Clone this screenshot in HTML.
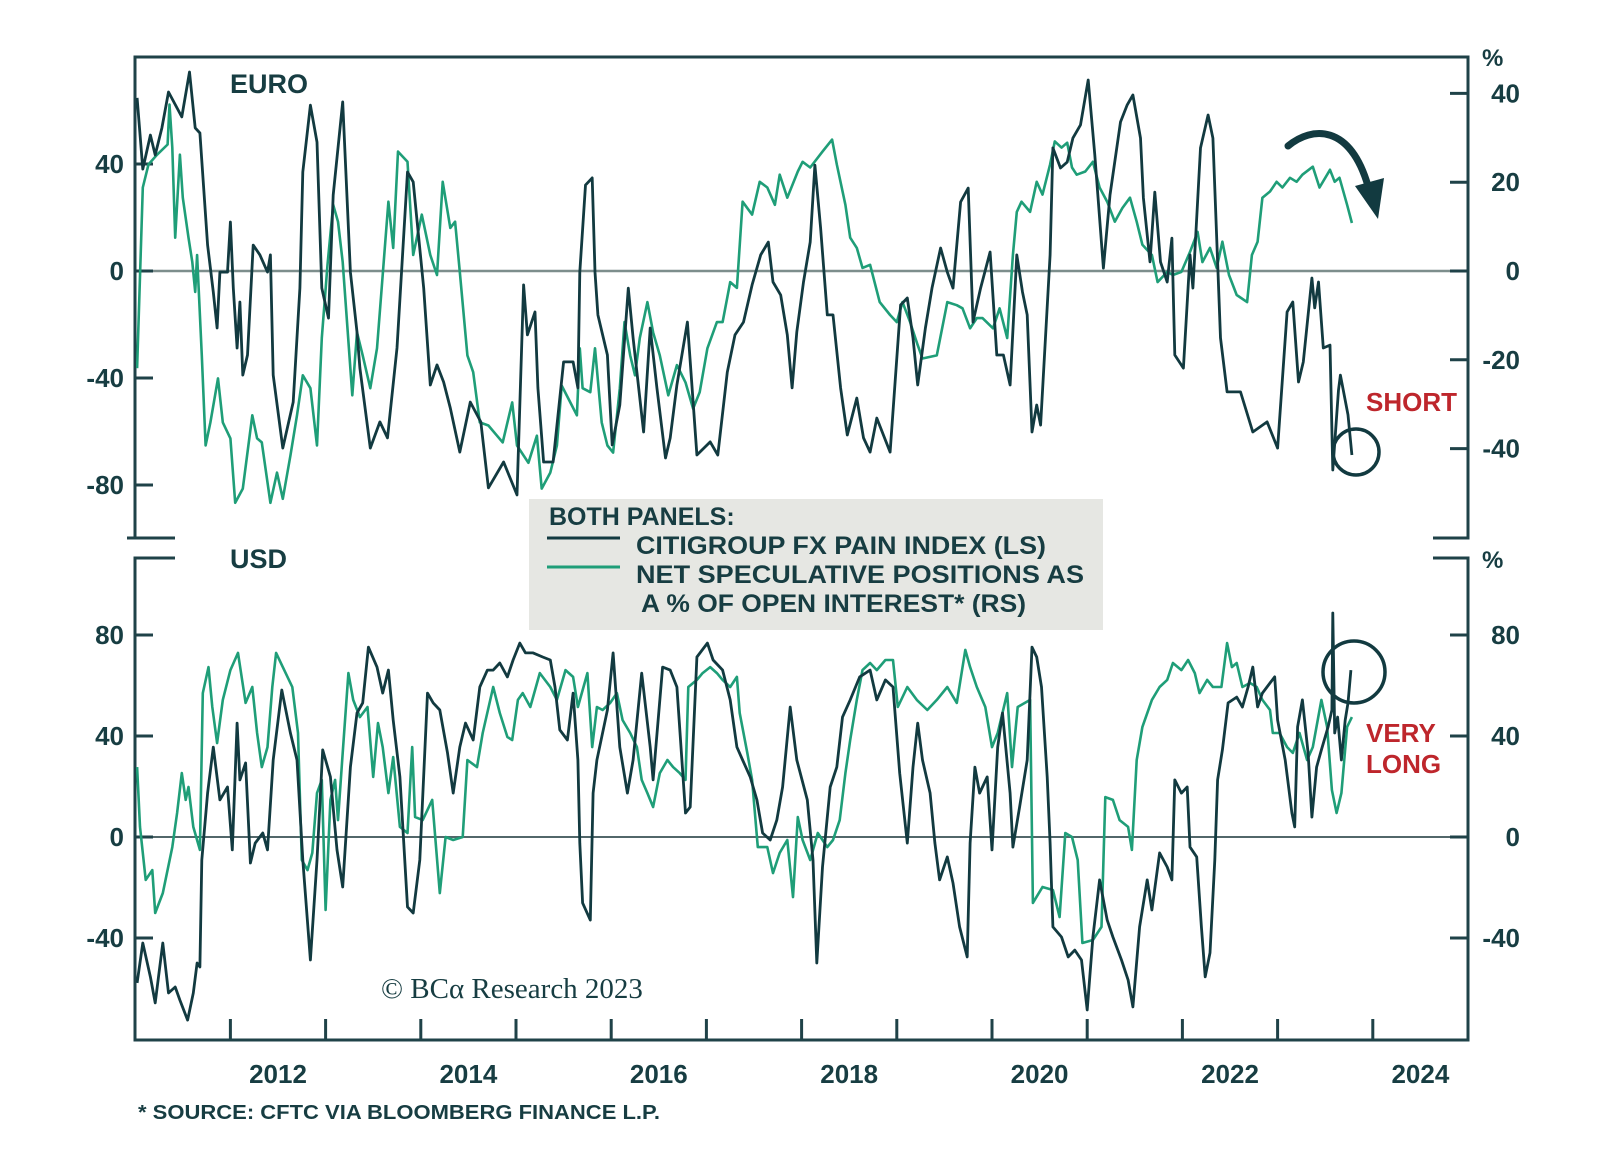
<!DOCTYPE html>
<html><head><meta charset="utf-8"><style>
html,body{margin:0;padding:0;background:#fff}
svg{display:block;font-family:"Liberation Sans",Arial,sans-serif}
</style></head><body>
<svg id="chart" width="1600" height="1160" viewBox="0 0 1600 1160" xmlns="http://www.w3.org/2000/svg">
<defs>
<clipPath id="clipTop"><rect x="136" y="58" width="1331" height="479"/></clipPath>
<clipPath id="clipBot"><rect x="136" y="559" width="1331" height="480"/></clipPath>
</defs>
<g id="axes"></g>
<rect x="529" y="499" width="574" height="131" fill="#e6e7e3"/>
<g id="series"></g>
<g fill="#173d42" font-weight="bold" font-size="25">
<text x="549" y="525">BOTH PANELS:</text>
<line x1="547" y1="538" x2="620" y2="538" stroke="#123a40" stroke-width="3"/>
<text x="636" y="554" textLength="410" lengthAdjust="spacingAndGlyphs">CITIGROUP FX PAIN INDEX (LS)</text>
<line x1="547" y1="567" x2="620" y2="567" stroke="#1f9e78" stroke-width="3"/>
<text x="636" y="583" textLength="448" lengthAdjust="spacingAndGlyphs">NET SPECULATIVE POSITIONS AS</text>
<text x="641" y="612" textLength="385" lengthAdjust="spacingAndGlyphs">A % OF OPEN INTEREST* (RS)</text>
</g>
<text x="230" y="93" font-size="27" font-weight="bold" fill="#173d42">EURO</text>
<text x="230" y="568" font-size="27" font-weight="bold" fill="#173d42">USD</text>
<text x="381" y="998" font-family="'Liberation Serif',serif" font-size="29" fill="#173d42">© BCα Research 2023</text>
<text x="138" y="1119" font-size="20" font-weight="bold" fill="#173d42" textLength="522" lengthAdjust="spacingAndGlyphs">* SOURCE: CFTC VIA BLOOMBERG FINANCE L.P.</text>
<text x="1366" y="411" font-size="26" font-weight="bold" fill="#be262c">SHORT</text>
<text x="1366" y="742" font-size="26" font-weight="bold" fill="#be262c">VERY</text>
<text x="1366" y="773" font-size="26" font-weight="bold" fill="#be262c">LONG</text>
<circle cx="1356" cy="452" r="23" fill="none" stroke="#123a40" stroke-width="3.5"/>
<circle cx="1354" cy="672" r="31" fill="none" stroke="#123a40" stroke-width="3.5"/>
<g>
<path d="M1288,146 C1312,126 1350,124 1368,186" fill="none" stroke="#123a40" stroke-width="7" stroke-linecap="round"/>
<polygon points="1355,186 1384,178 1378,219" fill="#123a40"/>
</g>
</svg>
<script>
const euroPainDates=[2010.52,2010.58,2010.66,2010.71,2010.78,2010.85,2010.99,2011.07,2011.13,2011.18,
2011.26,2011.32,2011.36,2011.39,2011.47,2011.50,2011.53,2011.57,2011.60,2011.63,
2011.68,2011.74,2011.81,2011.89,2011.92,2011.95,2012.05,2012.16,2012.23,2012.26,
2012.34,2012.41,2012.46,2012.53,2012.58,2012.68,2012.76,2012.83,2012.86,2012.97,
2013.07,2013.15,2013.25,2013.36,2013.42,2013.53,2013.60,2013.67,2013.74,2013.81,
2013.91,2014.02,2014.13,2014.21,2014.37,2014.51,2014.58,2014.62,2014.70,2014.73,
2014.79,2014.89,2015.00,2015.10,2015.15,2015.17,2015.23,2015.30,2015.33,2015.36,
2015.46,2015.51,2015.59,2015.68,2015.73,2015.77,2015.84,2015.91,2015.98,2016.07,
2016.12,2016.19,2016.30,2016.40,2016.54,2016.62,2016.72,2016.80,2016.89,2016.98,
2017.07,2017.15,2017.20,2017.28,2017.35,2017.40,2017.45,2017.52,2017.59,2017.64,
2017.70,2017.77,2017.83,2017.91,2017.98,2018.08,2018.15,2018.22,2018.29,2018.43,
2018.54,2018.61,2018.67,2018.72,2018.80,2018.87,2018.96,2019.03,2019.09,2019.17,
2019.25,2019.30,2019.38,2019.48,2019.55,2019.62,2019.69,2019.76,2019.82,2019.87,
2019.92,2019.97,2020.01,2020.11,2020.14,2020.22,2020.29,2020.35,2020.43,2020.51,
2020.58,2020.67,2020.74,2020.85,2020.92,2020.98,2021.06,2021.09,2021.16,2021.21,
2021.27,2021.34,2021.39,2021.42,2021.51,2021.58,2021.61,2021.69,2021.77,2021.82,
2021.90,2021.97,2022.11,2022.24,2022.39,2022.50,2022.60,2022.66,2022.72,2022.77,
2022.86,2022.89,2022.93,2022.98,2023.05,2023.08,2023.14,2023.16,2023.24,2023.28];
const euroPainValues=[64.7,38.1,50.8,43.4,53.5,66.9,57.6,74.4,53.5,51.6,
9.7,-7.9,-21.3,-0.4,-0.4,18.3,-6.4,-28.8,-11.6,-38.9,
-31.4,9.7,6,-0.4,6,-38.9,-66.2,-49,-6.4,37,
62,48.2,-6.4,-17.6,28.4,63.2,-0.4,-22.8,-36.3,-66.2,
-56.4,-62.4,-28.8,37,33.3,-6.4,-42.6,-35.1,-41.5,-51.2,
-67.7,-49,-56.4,-81.1,-71.4,-83.7,-5.2,-23.9,-15.3,-43.7,
-71.4,-71.4,-34,-34,-43.7,-0.4,32.1,34.8,-0.4,-16.4,
-31.4,-65,-50.1,-6.4,-25,-37.8,-60.2,-21.3,-43.7,-69.9,
-62.4,-42.6,-19.1,-68.8,-63.9,-68.8,-37.8,-23.9,-19.1,-5.2,
6,10.8,-4.1,-9,-23.9,-43.7,-22.8,-4.1,10.8,39.6,
16.1,-16.4,-16.4,-43.7,-61.3,-47.5,-62.4,-67.7,-55,-67.7,
-12.7,-10.1,-25,-42.6,-21.3,-6.4,8.6,-0.4,-6.4,25.8,
31,-19.1,-6.4,7.1,-31.4,-31.4,-42.6,6,-7.9,-16.4,
-60.2,-50.1,-57.6,6,46,38.5,40.7,49.7,54.6,71.4,
43.4,1.1,28.4,55.7,62.1,65.8,49.7,27.3,3.4,29.5,
3.4,-4.1,12.3,-31.4,-36.3,6,-6.4,46,58.3,49.7,
-25,-45.2,-45.2,-60.2,-56.4,-66.2,-15.3,-11.6,-41.5,-34,
-2.6,-13.8,-4.1,-28.8,-27.7,-74.4,-44.5,-38.9,-53.8,-68.8];
const euroNetDates=[2010.52,2010.58,2010.64,2010.73,2010.84,2010.86,2010.89,2010.92,2010.97,2011.00,
2011.06,2011.10,2011.13,2011.15,2011.20,2011.24,2011.29,2011.37,2011.42,2011.50,
2011.55,2011.63,2011.73,2011.78,2011.83,2011.92,2011.99,2012.05,2012.13,2012.20,
2012.26,2012.34,2012.41,2012.46,2012.52,2012.58,2012.63,2012.68,2012.78,2012.83,
2012.89,2012.97,2013.04,2013.16,2013.21,2013.26,2013.36,2013.42,2013.51,2013.60,
2013.67,2013.73,2013.81,2013.86,2013.91,2013.99,2014.05,2014.12,2014.21,2014.30,
2014.36,2014.46,2014.51,2014.63,2014.72,2014.77,2014.86,2014.93,2014.98,2015.07,
2015.14,2015.17,2015.20,2015.28,2015.33,2015.40,2015.46,2015.52,2015.59,2015.64,
2015.70,2015.75,2015.80,2015.88,2015.94,2016.01,2016.10,2016.19,2016.28,2016.36,
2016.43,2016.51,2016.61,2016.67,2016.75,2016.82,2016.88,2016.98,2017.06,2017.14,
2017.22,2017.27,2017.35,2017.46,2017.51,2017.59,2017.72,2017.82,2017.87,2017.96,
2018.01,2018.08,2018.14,2018.22,2018.32,2018.43,2018.50,2018.56,2018.64,2018.72,
2018.77,2018.92,2019.03,2019.13,2019.19,2019.27,2019.34,2019.40,2019.51,2019.58,
2019.66,2019.72,2019.76,2019.81,2019.90,2019.97,2020.03,2020.11,2020.16,2020.23,
2020.29,2020.34,2020.39,2020.48,2020.56,2020.63,2020.71,2020.79,2020.87,2020.95,
2021.02,2021.08,2021.18,2021.24,2021.34,2021.40,2021.49,2021.58,2021.66,2021.71,
2021.79,2021.86,2021.92,2021.99,2022.07,2022.18,2022.23,2022.29,2022.34,2022.42,
2022.49,2022.55,2022.63,2022.70,2022.76,2022.87,2022.94,2023.05,2023.10,2023.15,
2023.23,2023.28];
const euroNetValues=[-21.9,18.8,24,26.2,28.5,37.5,27.8,7.5,26.2,16.5,
7.5,2,-4.7,3.6,-19,-39.3,-34.1,-24.2,-34.1,-37.7,
-52.2,-49,-32.5,-37.7,-38.6,-52.2,-45.4,-51.3,-41.6,-32.5,
-23.5,-26.4,-39.3,-15.1,1.4,14.9,11.1,2,-28,-13.8,
-19,-26.4,-17.4,15.6,5.2,26.9,24.6,3.6,12.7,3.6,
-0.9,20.1,9.7,11.1,-0.2,-19,-22.8,-34.1,-34.8,-37.1,
-38.6,-29.6,-39.3,-43.2,-37.1,-49,-45.4,-39.3,-25.8,-29.6,
-32.5,-17.4,-26.4,-27.3,-17.4,-34.1,-39.3,-40.9,-26.4,-11.5,
-19,-23.5,-15.1,-7,-13.8,-19,-28,-21.2,-25.1,-31,
-27.3,-17.4,-11.5,-11.5,-2.5,-3.8,15.6,12.7,20.1,18.8,
14.9,21.7,16.5,22.4,24.6,23.3,26.9,29.6,24,14.9,
7.5,5.2,0.7,1.4,-7,-9.9,-11.5,-7,-11.5,-16.7,
-19.7,-19,-7,-7.7,-8.4,-12.9,-10.6,-10.6,-12.9,-8.4,
-15.1,3.6,13.3,15.6,13.3,20.1,17.2,24,29.2,27.8,
28.9,23.3,21.7,22.4,24.6,18.8,15.6,11.1,14.2,16.5,
11.1,5.9,3.6,-2.5,-0.2,-0.9,-0.2,4.3,8.8,2,
5.2,0.7,6.6,-0.9,-5.4,-7,3.6,6.6,16.5,17.9,
20.1,18.8,21,20.1,21.7,23.5,18.8,22.8,20.1,21,
14.9,10.8];
const usdPainDates=[2010.52,2010.58,2010.66,2010.71,2010.79,2010.85,2010.92,2010.97,2011.05,2011.11,
2011.15,2011.18,2011.20,2011.26,2011.32,2011.39,2011.47,2011.52,2011.57,2011.60,
2011.66,2011.71,2011.76,2011.84,2011.89,2011.95,2012.04,2012.13,2012.20,2012.26,
2012.34,2012.41,2012.47,2012.55,2012.62,2012.68,2012.76,2012.83,2012.89,2012.95,
2013.04,2013.10,2013.16,2013.21,2013.28,2013.36,2013.42,2013.49,2013.57,2013.63,
2013.70,2013.78,2013.84,2013.91,2013.97,2014.05,2014.12,2014.20,2014.26,2014.33,
2014.41,2014.47,2014.54,2014.60,2014.68,2014.78,2014.86,2014.91,2014.96,2015.04,
2015.10,2015.15,2015.17,2015.20,2015.28,2015.31,2015.35,2015.46,2015.52,2015.59,
2015.67,2015.73,2015.82,2015.91,2015.94,2016.04,2016.12,2016.19,2016.28,2016.33,
2016.40,2016.51,2016.57,2016.67,2016.75,2016.82,2016.88,2016.96,2017.03,2017.09,
2017.17,2017.24,2017.30,2017.38,2017.45,2017.56,2017.62,2017.66,2017.72,2017.80,
2017.87,2017.93,2018.01,2018.11,2018.22,2018.29,2018.38,2018.46,2018.53,2018.61,
2018.67,2018.72,2018.77,2018.85,2018.90,2018.95,2019.03,2019.09,2019.16,2019.24,
2019.27,2019.32,2019.37,2019.45,2019.50,2019.56,2019.61,2019.69,2019.72,2019.79,
2019.87,2019.92,2019.97,2020.02,2020.08,2020.11,2020.14,2020.23,2020.30,2020.37,
2020.44,2020.50,2020.56,2020.63,2020.71,2020.77,2020.86,2020.93,2020.98,2021.05,
2021.13,2021.18,2021.26,2021.34,2021.39,2021.42,2021.49,2021.55,2021.58,2021.65,
2021.70,2021.74,2021.79,2021.84,2021.87,2021.92,2021.98,2022.07,2022.13,2022.19,
2022.24,2022.29,2022.34,2022.42,2022.47,2022.50,2022.58,2022.65,2022.68,2022.71,
2022.76,2022.82,2022.86,2022.91,2022.96,2023.03,2023.07,2023.08,2023.10,2023.13,
2023.17,2023.21,2023.24,2023.27];
const usdPainValues=[-57.8,-42,-55.4,-65.7,-42,-61.8,-59.4,-64.6,-72.5,-61.8,
-49.9,-51.5,-9.1,17.4,35.6,14.7,19.8,-5.1,45.1,22.6,
29.3,-10.3,-2.4,1.6,-5.1,30.5,58.2,41.2,30.5,-9.1,
-48.7,-9.1,34.5,23.8,-5.1,-19.8,27.7,49.1,53.1,75.2,
67.3,57,66.1,46.3,23.8,-27.7,-30.1,-9.1,57,53.1,
50.3,33.3,17.4,35.6,45.1,38.4,59.4,66.1,66.1,68.9,
63.4,70.1,76.8,72.9,72.9,71.3,70.1,59.4,42.4,38.4,
57,30.5,-2.4,-26.1,-32.9,17.4,30.5,50.3,72.9,35.6,
17.4,30.5,64.9,35.6,22.6,67.3,66.1,59.4,9.5,11.9,
71.3,76.8,70.1,66.1,54.3,35.6,30.5,23.8,14.7,1.6,
-1.2,6.7,19.8,51.5,30.5,14.7,-9.1,-49.9,-11.9,19.8,
27.7,47.5,54.3,63.4,66.1,54.3,62.2,59.4,25.3,-2.4,
27.7,45.1,30.5,17.4,-2.4,-17,-7.9,-18.2,-35.6,-47.5,
-2.4,27.7,17.4,23.8,-5.1,35.6,49.1,17.4,-4,11.9,
30.5,75.2,71.3,59.4,23.8,-2.4,-35.6,-39.6,-47.5,-44.8,
-48.7,-68.5,-39.6,-17,-32.9,-39.6,-48.7,-56.6,-67.3,-35.6,
-17,-28.9,-6.3,-11.9,-17,22.6,17.4,19.8,-4,-7.9,
-35.6,-55.4,-45.9,-9.1,22.6,34.5,53.1,55.4,51.5,59.4,
67.3,51.5,57,61,63.4,46.3,30.5,9.5,4,43.6,
54.3,33.3,7.9,27.7,34.5,43.6,50.3,88.7,41.2,47.5,
30.5,46.3,53.1,66.1];
const usdNetDates=[2010.52,2010.55,2010.61,2010.68,2010.71,2010.79,2010.89,2010.94,2010.99,2011.03,
2011.06,2011.11,2011.18,2011.21,2011.27,2011.31,2011.36,2011.42,2011.50,2011.58,
2011.66,2011.73,2011.78,2011.83,2011.89,2011.94,2011.98,2012.05,2012.15,2012.21,
2012.25,2012.31,2012.36,2012.41,2012.46,2012.50,2012.55,2012.60,2012.63,2012.68,
2012.74,2012.79,2012.86,2012.94,2013.00,2013.05,2013.10,2013.16,2013.21,2013.28,
2013.36,2013.41,2013.44,2013.52,2013.62,2013.70,2013.76,2013.84,2013.94,2013.99,
2014.09,2014.15,2014.26,2014.33,2014.41,2014.46,2014.52,2014.57,2014.65,2014.75,
2014.86,2014.93,2015.02,2015.10,2015.15,2015.25,2015.30,2015.35,2015.41,2015.49,
2015.56,2015.62,2015.70,2015.77,2015.82,2015.88,2015.94,2016.01,2016.09,2016.15,
2016.22,2016.28,2016.31,2016.40,2016.46,2016.54,2016.61,2016.67,2016.75,2016.82,
2016.85,2016.93,2016.98,2017.04,2017.14,2017.20,2017.27,2017.35,2017.41,2017.46,
2017.51,2017.59,2017.67,2017.77,2017.83,2017.90,2017.96,2018.01,2018.08,2018.14,
2018.22,2018.29,2018.38,2018.46,2018.51,2018.61,2018.71,2018.82,2018.92,2019.03,
2019.13,2019.22,2019.27,2019.34,2019.43,2019.50,2019.56,2019.66,2019.71,2019.77,
2019.90,2019.93,2020.03,2020.14,2020.21,2020.27,2020.34,2020.40,2020.45,2020.56,
2020.65,2020.69,2020.77,2020.84,2020.93,2020.97,2021.02,2021.08,2021.18,2021.26,
2021.34,2021.40,2021.49,2021.56,2021.63,2021.68,2021.76,2021.82,2021.91,2021.97,
2022.02,2022.07,2022.13,2022.21,2022.28,2022.34,2022.42,2022.45,2022.52,2022.60,
2022.66,2022.73,2022.81,2022.87,2022.96,2023.02,2023.07,2023.12,2023.17,2023.23,
2023.28];
const usdNetValues=[27.7,4,-17,-13.1,-30.1,-22.2,-4,9.5,25.3,14.7,
19.8,4,-5.1,57,67.3,51.5,37.2,54.3,66.1,72.9,
53.1,59.4,41.2,27.7,35.6,59.4,72.9,67.3,59.4,41.2,
-9.1,-13.1,-6.3,17.4,22.6,-28.9,14.7,22.6,6.7,33.3,
64.9,54.3,47.5,51.5,23.8,45.1,35.6,17.4,31.7,4,
1.6,35.6,7.9,6.7,14.7,-22.2,0,-1.2,0,30.5,
27.7,41.2,59.4,49.1,39.6,38.4,54.3,57,51.5,64.9,
59.4,54.3,66.1,63.4,51.5,64.9,35.6,51.5,50.3,53.1,
57,46.3,41.2,35.6,22.6,17.4,11.9,25.3,30.5,27.7,
25.3,22.6,59.4,62.2,64.9,67.3,64.9,62.2,59.4,63.4,
49.1,33.3,22.6,-4,-4,-14.3,-6.3,-1.2,-23.8,7.9,
-1.2,-9.1,1.6,-4,-1.2,6.7,25.3,38.4,54.3,66.1,
68.9,66.1,70.1,70.1,51.5,59.4,54.3,50.3,54.3,59.4,
53.1,74.1,67.3,59.4,51.5,35.6,41.2,57,27.7,51.5,
54.3,-26.1,-19.8,-21,-31.7,1.6,0,-9.1,-42,-40.8,
-35.6,15.8,14.7,6.7,4,-5.1,30.5,43.6,54.3,59.4,
62.2,68.9,66.1,70.1,64.9,57,62.2,59.4,59.4,76.8,
67.3,68.9,59.4,61,59.4,54.3,50.3,41.2,41.2,35.6,
33.3,41.2,30.5,35.6,54.3,43.6,18.6,9.5,17.4,43.6,
47.5];
const euroLeftTicks=[40,0,-40,-80];
const euroRightTicks=[40,20,0,-20,-40];
const usdLeftTicks=[80,40,0,-40];
const usdRightTicks=[80,40,0,-40];
const yearTicks=[2011.5,2012.5,2013.5,2014.5,2015.5,2016.5,2017.5,2018.5,2019.5,2020.5,2021.5,2022.5,2023.5];
const yearLabels=[2012,2014,2016,2018,2020,2022,2024];

const L=135,R=1468,TT=57,TB=538,BT=558,BB=1040;
function xs(t){return 278+(t-2012)*95.2;}
function yEuroL(v){return 271-v*2.675;}
function yEuroR(v){return 271-v*4.44;}
function yUsd(v){return 837-v*2.525;}
const NS='http://www.w3.org/2000/svg';
const axes=document.getElementById('axes');
const series=document.getElementById('series');
function mk(tag,attrs,parent){const e=document.createElementNS(NS,tag);for(const k in attrs)e.setAttribute(k,attrs[k]);parent.appendChild(e);return e;}
const FR='#1f4248',TX='#173d42';

let z=mk('line',{x1:L,y1:yEuroL(0),x2:R,y2:yEuroL(0),stroke:'#7d8e8c','stroke-width':2.5},axes);


z=mk('line',{x1:L,y1:yUsd(0),x2:R,y2:yUsd(0),stroke:'#52676a','stroke-width':2},axes);



const frame=mk('path',{d:`M${L-8},${TB} H${L} V${TT} H${R} V${TB} H${R-35} M${L},${TB} H${L+40} M${L+40},${BT} H${L} V${BB} H${R} V${BT} H${R-35}`,fill:'none',stroke:FR,'stroke-width':3},axes);



function tickSet(ticks,yf,side,name){
  ticks.forEach(v=>{
    const y=yf(v);
    const x1=side==='L'?L:R-18, x2=side==='L'?L+18:R;
    const ln=mk('line',{x1:x1,y1:y,x2:x2,y2:y,stroke:FR,'stroke-width':3},axes);
    
    
    const tx=mk('text',{x:side==='L'?124:1520,y:y+9,'text-anchor':'end','font-size':26,'font-weight':'bold',fill:TX},axes);
    tx.textContent=String(v);
    
    
  });
}
tickSet(euroLeftTicks,yEuroL,'L','euro-left-axis');
tickSet(euroRightTicks,yEuroR,'R','euro-right-axis');
tickSet(usdLeftTicks,yUsd,'L','usd-left-axis');
tickSet(usdRightTicks,yUsd,'R','usd-right-axis');
[[TT+9,'euro-right-unit'],[BT+10,'usd-right-unit']].forEach(p=>{
  const t=mk('text',{x:1482,y:p[0],'font-size':24,'font-weight':'bold',fill:TX},axes);
  t.textContent='%';
  
  
});
yearTicks.forEach(t=>{
  const ln=mk('line',{x1:xs(t),y1:BB,x2:xs(t),y2:BB-21,stroke:FR,'stroke-width':3},axes);
  
  
});
yearLabels.forEach(yv=>{
  const tx=mk('text',{x:xs(yv),y:1083,'text-anchor':'middle','font-size':26,'font-weight':'bold',fill:TX},axes);
  tx.textContent=String(yv);
  
  
});

function line(dates,vals,yf,color,clip,name,w){
  let d='';
  for(let i=0;i<dates.length;i++){d+=(i?'L':'M')+xs(dates[i]).toFixed(1)+','+yf(vals[i]).toFixed(1);}
  const p=mk('path',{d:d,fill:'none',stroke:color,'stroke-width':w,'stroke-linejoin':'round','clip-path':'url(#'+clip+')'},series);
  
  
}
line(euroNetDates,euroNetValues,yEuroR,'#1f9e78','clipTop','euro-net-positions-line',2.6);
line(euroPainDates,euroPainValues,yEuroL,'#123a40','clipTop','euro-pain-index-line',2.8);
line(usdNetDates,usdNetValues,yUsd,'#1f9e78','clipBot','usd-net-positions-line',2.6);
line(usdPainDates,usdPainValues,yUsd,'#123a40','clipBot','usd-pain-index-line',2.8);
</script>
</body></html>
